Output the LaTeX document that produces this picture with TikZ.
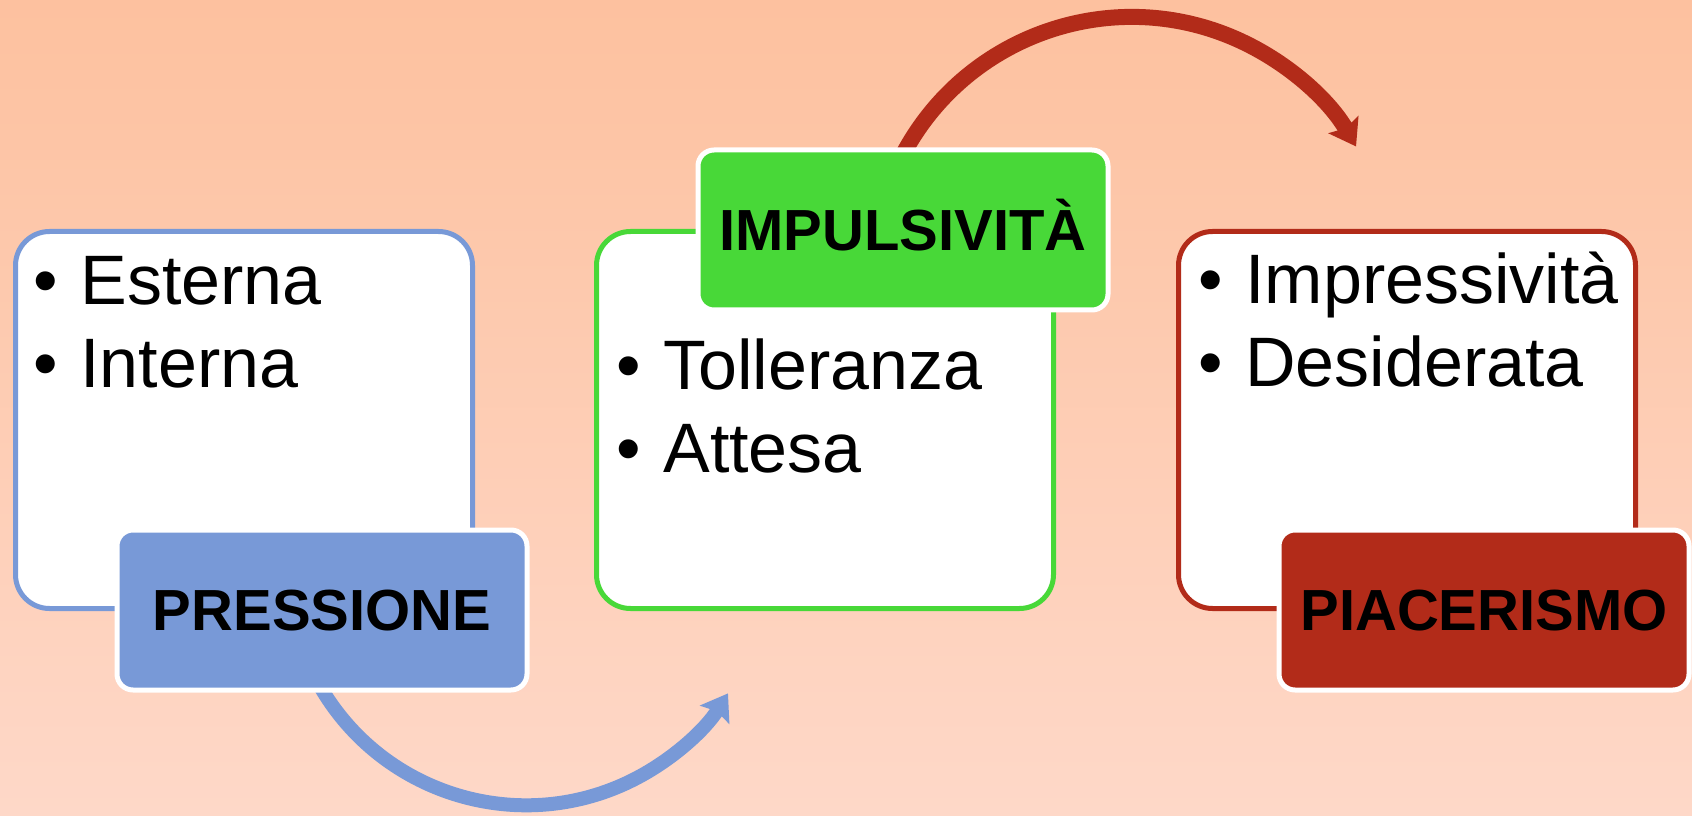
\documentclass[tikz,border=0pt]{standalone}
\usepackage{fontspec}
\setmainfont{Liberation Sans}
\usetikzlibrary{arrows.meta}

\definecolor{bluPress}{RGB}{120,153,215}
\definecolor{verdeImp}{RGB}{72,216,56}
\definecolor{rossoPiac}{RGB}{178,43,25}
\definecolor{fondoAlto}{RGB}{253,193,159}
\definecolor{fondoBasso}{RGB}{254,216,200}

\newcommand{\voce}[1]{\makebox[23.5pt][l]{\textbullet}#1}

\begin{document}
\begin{tikzpicture}[x=0.5pt,y=0.5pt,
        riquadro/.style  = {draw, fill=white, line width=2.5pt, rounded corners=17pt,
                            minimum width=228.5pt, minimum height=188.5pt},
        etichetta/.style = {draw=white, line width=2.5pt, rounded corners=8pt,
                            minimum width=205pt, minimum height=80pt,
                            text height=20.8pt, text depth=0pt,
                            font=\bfseries\fontsize{29}{35}\selectfont},
        lista/.style     = {anchor=north west, inner sep=0pt, align=left,
                            font=\fontsize{35}{41.5}\selectfont},
        freccia/.style   = {-{Stealth[length=12.5pt,width=17pt,inset=2pt]}}]

    % sfondo
    \shade[top color=fondoAlto, bottom color=fondoBasso] (0,0) rectangle (1692,815);
    \useasboundingbox (0,0) rectangle (1692,815);

    % riquadri
    \node[riquadro, draw=bluPress]  (blu)   at (244,395)  {};
    \node[riquadro, draw=verdeImp]  (verde) at (825,395)  {};
    \node[riquadro, draw=rossoPiac] (rosso) at (1407,395) {};

    \node[lista] (tblu)   at ([shift={(10pt,-13.5pt)}]blu.north west)  {\voce{Esterna}\\\voce{Interna}};
    \node[lista] (tverde) at ([shift={(11pt,-54.5pt)}]verde.north west) {\voce{Tolleranza}\\\voce{Attesa}};
    \node[lista] (trosso) at ([shift={(11pt,-11.5pt)}]rosso.north west) {\voce{Impressività}\\\voce{Desiderata}};

    % frecce
    \coordinate (pA) at (316,136);
    \coordinate (iA) at (897,648.5);
    \draw[freccia, bluPress, line width=7pt] (pA) arc[start angle=-152, end angle=-32, radius=119pt];
    \draw[freccia, rossoPiac, line width=8pt] (iA) arc[start angle=155, end angle=30, radius=129.5pt];

    % etichette
    \node[etichetta, fill=bluPress]  (pres)   at (322,205)  {PRESSIONE};
    \node[etichetta, fill=verdeImp]  (impuls) at (903,585)  {IMPULSIVITÀ};
    \node[etichetta, fill=rossoPiac] (piac)   at (1484,205) {PIACERISMO};

\end{tikzpicture}
\end{document}
